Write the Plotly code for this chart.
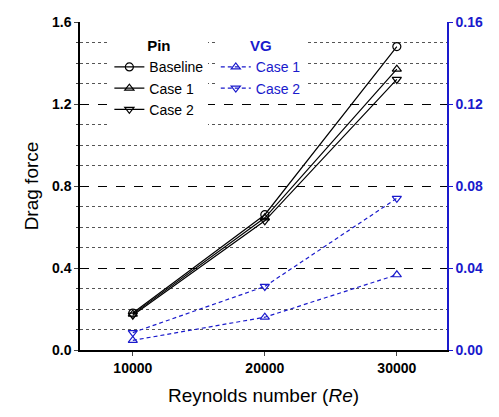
import plotly.graph_objects as go

re = [10000, 20000, 30000]
pin_baseline = [0.18, 0.66, 1.48]
pin_case1 = [0.175, 0.645, 1.37]
pin_case2 = [0.17, 0.63, 1.32]
vg_case1 = [0.0047, 0.016, 0.0367]
vg_case2 = [0.0085, 0.031, 0.074]

fig = go.Figure()
blk = dict(color="black", width=1.2)
blu = dict(color="#1a1acc", width=1.2, dash="4px,3px")
for name, y, sym in [("Baseline", pin_baseline, "circle-open"),
                     ("Case 1", pin_case1, "triangle-up-open"),
                     ("Case 2", pin_case2, "triangle-down-open")]:
    fig.add_trace(go.Scatter(x=re, y=y, name=name, mode="lines+markers", line=blk,
                             marker=dict(symbol=sym, size=8, color="black", line=dict(width=1.2)),
                             legend="legend"))
for name, y, sym in [("Case 1", vg_case1, "triangle-up-open"),
                     ("Case 2", vg_case2, "triangle-down-open")]:
    fig.add_trace(go.Scatter(x=re, y=y, name=name, mode="lines+markers", line=blu, yaxis="y2",
                             marker=dict(symbol=sym, size=8, color="#1a1acc", line=dict(width=1.2)),
                             legend="legend2"))

font = "Liberation Sans, Arial, sans-serif"
fig.update_layout(
    width=499, height=417, template="none", plot_bgcolor="white", paper_bgcolor="white",
    margin=dict(l=72, r=60, t=14, b=75),
    font=dict(family=font, size=14, color="black"),
    xaxis=dict(range=[6000, 33800], tickvals=re, ticktext=["10000", "20000", "30000"],
               tickfont=dict(size=14, family=font, weight="bold"), showgrid=False,
               showline=True, linecolor="black", linewidth=1.5, mirror=False,
               ticks="outside", ticklen=4,
               title=dict(text="Reynolds number (<i>Re</i>)", font=dict(size=19), standoff=14)),
    yaxis=dict(range=[0, 1.6], dtick=0.4, tickformat=".1f", showline=True, linecolor="black",
               linewidth=1.5, ticks="outside", ticklen=4,
               tickfont=dict(size=14, weight="bold"),
               showgrid=True, gridcolor="black", griddash="dash", gridwidth=1.2,
               minor=dict(dtick=0.1, showgrid=True, gridcolor="#555", griddash="dot", gridwidth=1, ticks="outside", ticklen=2),
               title=dict(text="Drag force", font=dict(size=19), standoff=8), zeroline=False),
    yaxis2=dict(range=[0, 0.16], dtick=0.04, tickformat=".2f", overlaying="y", side="right",
                showline=True, linecolor="#1a1acc", linewidth=1.5, ticks="outside", ticklen=4,
                tickcolor="#1a1acc", tickfont=dict(size=14, color="#1a1acc", weight="bold"),
                showgrid=False, zeroline=False),
    legend=dict(x=0.08, y=0.97, xanchor="left", yanchor="top", bgcolor="white",
                title=dict(text="<b>Pin</b>", side="top center", font=dict(size=15)),
                font=dict(size=14), tracegroupgap=0, itemwidth=30),
    legend2=dict(x=0.37, y=0.97, xanchor="left", yanchor="top", bgcolor="white",
                 title=dict(text="<b>VG</b>", side="top center", font=dict(size=15)),
                 font=dict(size=14, color="#1a1acc"), itemwidth=30),
    showlegend=True,
)
fig.write_html("out.html")
